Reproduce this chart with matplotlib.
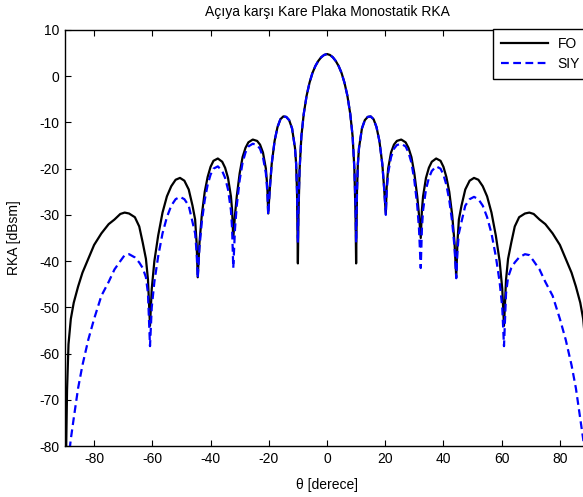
import numpy as np
import matplotlib
matplotlib.use('Agg')
import matplotlib.pyplot as plt

# one half of the pattern (theta >= 0), the cut is symmetric about 0
theta_half = [0, 1, 2, 3, 4, 5, 6, 7, 8, 8.8, 9.4, 9.8, 10.0,
              10.3, 10.6, 11, 12, 13, 14, 15, 16, 17, 18, 19, 19.6, 20.2,
              20.5, 21, 22, 23, 24, 25.5, 27, 28, 29, 30, 31, 31.6, 32.2,
              32.6, 33, 34, 35, 36, 37.5, 39, 40, 41, 42, 43, 43.8, 44.4,
              44.8, 45.3, 46.2, 47.5, 49, 50.5, 52, 53.5, 55, 56.5, 58, 59.3, 60.2, 60.8,
              61.5, 62.2, 63.3, 64.5, 66, 68, 69.5, 71, 73, 75, 77.5, 80, 82, 84,
              85.5, 87, 88, 88.8, 89.3, 89.7]

fo_half = [4.8, 4.6, 4.1, 3.3, 2.2, 0.7, -1.4, -4.2, -8.2, -13, -20, -30, -40.5,
           -25, -19, -15.5, -11.3, -9.5, -8.8, -8.7, -9.3, -11, -14, -19, -24, -29.7,
           -24, -20, -16.5, -14.8, -14.0, -13.7, -14.3, -15.5, -17.5, -21, -26, -30, -35,
           -29, -26, -22, -19.8, -18.5, -17.8, -18.3, -19.6, -21.8, -25, -30, -36, -43.5,
           -36, -31, -28, -24.5, -22.6, -22.0, -22.4, -23.8, -26, -29.5, -34.5, -40, -46, -54,
           -44, -39.5, -36, -32.5, -30.5, -29.7, -29.5, -29.8, -31, -32, -34, -36.5, -39.5, -42.5,
           -45.5, -49, -52.5, -58, -68, -85]

siy_half = [4.8, 4.6, 4.1, 3.3, 2.2, 0.7, -1.4, -4.2, -8.2, -13, -20, -28, -36,
            -25, -19, -15.5, -11.3, -9.5, -8.8, -8.7, -9.3, -11, -14, -19, -24, -30,
            -25, -21, -17.5, -15.7, -14.9, -14.6, -15.2, -16.5, -18.7, -22.5, -28, -33, -41.5,
            -33, -29, -24.5, -22, -20.5, -19.5, -20, -21.3, -23.5, -26.8, -31.5, -37, -43.7,
            -38, -34, -31.5, -28, -26.6, -26.1, -26.6, -28, -30.5, -34, -39, -44.5, -50, -58.4,
            -47, -43.5, -41.5, -40.3, -39.2, -38.5, -38.7, -40, -41.8, -44.5, -47.5, -52.5, -57, -62.5,
            -67.5, -74, -78.5, -83, -88, -92]

x_ticks = [-80, -60, -40, -20, 0, 20, 40, 60, 80]
y_ticks = [10, 0, -10, -20, -30, -40, -50, -60, -70, -80]


def main():
    plt.rcParams['font.family'] = ['Liberation Sans', 'DejaVu Sans']
    plt.rcParams['font.size'] = 10
    plt.rcParams['axes.unicode_minus'] = False

    th = np.array(theta_half)
    theta = np.concatenate([-th[:0:-1], th])
    fo = np.concatenate([np.array(fo_half)[:0:-1], fo_half])
    siy = np.concatenate([np.array(siy_half)[:0:-1], siy_half])

    fig = plt.figure(figsize=(5.83, 4.97), dpi=100)
    ax = fig.add_axes([65 / 583, 51 / 497, 524 / 583, 416 / 497])

    ax.plot(theta, fo, color='black', lw=1.6, label='FO')
    ax.plot(theta, siy, color='blue', lw=1.6, ls=(0, (3.5, 2)), label='SIY')

    ax.set_xlim(-90, 90)
    ax.set_ylim(-80, 10)
    ax.set_xticks(x_ticks)
    ax.set_yticks(y_ticks)
    ax.tick_params(direction='in', top=True, right=True, length=4, width=0.8,
                   labelsize=10, pad=4)
    for s in ax.spines.values():
        s.set_linewidth(1.0)

    ax.set_title('Açıya karşı Kare Plaka Monostatik RKA', fontsize=10, pad=10)
    ax.set_xlabel('θ [derece]', fontsize=10, labelpad=9)
    ax.set_ylabel('RKA [dBsm]', fontsize=10, labelpad=13)

    # legend box runs past the right edge of the figure, as in the original
    top = 1 - 29 / 497
    h = 51 / 497
    leg = fig.legend(loc='upper left', bbox_to_anchor=(493 / 583, top - h, 0.2, h),
                     mode='expand', fancybox=False, edgecolor='black', framealpha=1,
                     handlelength=3.4, handletextpad=0.7, borderpad=0.55,
                     labelspacing=0.45, borderaxespad=0, fontsize=10)
    leg.get_frame().set_linewidth(1.0)

    fig.savefig('out.png', dpi=100)


if __name__ == "__main__":
    main()
